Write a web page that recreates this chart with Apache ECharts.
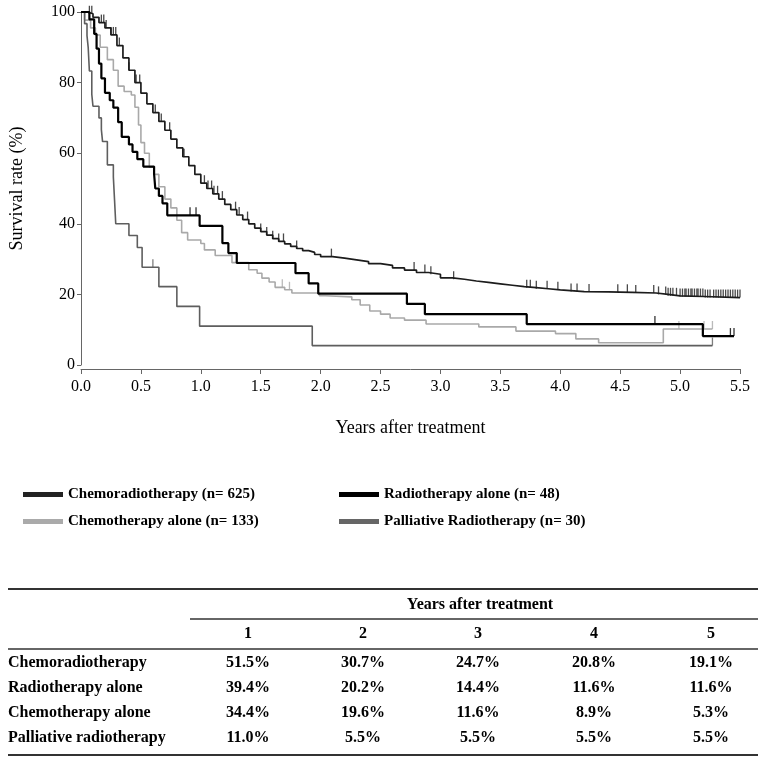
<!DOCTYPE html>
<html><head><meta charset="utf-8">
<script src="https://cdn.jsdelivr.net/npm/echarts@6/dist/echarts.min.js"></script>
<style>html,body{margin:0;padding:0;background:#fff}#c{width:767px;height:765px}</style>
</head><body><div id="c"></div>
<script>
// ---------- data ----------
const seriesNames = ['Chemoradiotherapy (n= 625)', 'Radiotherapy alone (n= 48)', 'Chemotherapy alone (n= 133)', 'Palliative Radiotherapy (n= 30)'];

const crtTime = [0,0.05,0.1,0.15,0.2,0.25,0.3,0.35,0.4,0.45,0.5,0.55,0.6,0.65,0.7,0.75,0.8,0.85,0.9,0.95,1.0,1.05,1.1,1.15,1.2,1.25,1.3,1.35,1.4,1.45,1.5,1.55,1.6,1.65,1.7,1.75,1.8,1.85,1.9,1.95,2.0,2.1,2.2,2.3,2.4,2.5,2.6,2.7,2.8,2.9,3.0,3.1,3.2,3.3,3.4,3.5,3.6,3.7,3.8,3.9,4.0,4.2,4.4,4.6,4.8,4.9,5.0,5.2,5.5];
const crtSurv = [100,99.5,98.5,97,95.5,93.5,90.5,87,83.5,80,77,74,71.5,69,66.5,64,61.5,59,56.5,54,51.5,50,48.5,47,45.5,44,42.5,41.2,40,38.8,37.8,36.8,35.8,35,34.3,33.6,33,32.4,31.9,31.3,30.7,30.3,29.8,29.3,28.7,28.2,27.5,26.9,26.2,25.7,24.7,24.3,23.8,23.4,23.0,22.6,22.2,21.9,21.6,21.3,20.8,20.7,20.6,20.4,20.0,19.6,19.4,19.1,19.1];
const crtCensor = [0.07,0.09,0.17,0.19,0.21,0.25,0.27,0.29,0.32,0.4,0.46,0.49,0.62,0.67,0.74,0.85,0.86,1.03,1.06,1.09,1.11,1.14,1.18,1.29,1.32,1.39,1.5,1.55,1.6,1.65,1.69,1.8,2.09,2.78,2.87,2.92,3.11,3.72,3.75,3.8,3.89,3.98,4.09,4.14,4.24,4.48,4.56,4.63,4.78,4.82,4.88,4.9,4.92,4.94,4.97,5.0,5.02,5.04,5.05,5.07,5.09,5.1,5.12,5.14,5.15,5.17,5.19,5.21,5.23,5.25,5.28,5.3,5.32,5.34,5.36,5.38,5.4,5.42,5.44,5.46,5.48,5.5];

const rtTime = [0,0.07,0.11,0.13,0.15,0.17,0.2,0.24,0.27,0.31,0.34,0.4,0.43,0.47,0.52,0.61,0.62,0.65,0.68,0.72,0.99,1.18,1.23,1.3,1.79,1.9,1.98,2.72,2.87,3.72,5.19,5.45];
const rtSurv = [100,97.9,93.8,89.6,85.4,81.2,77.1,75,72.9,68.8,64.6,62.5,60.4,58.3,56.2,54.1,50,47.9,45.8,42.4,39.4,34.5,31.7,28.9,26.0,23.1,20.2,17.3,14.4,11.6,8.2,8.2];
const rtCensor = [0.91,0.96,4.79,5.42,5.45];

const ctTime = [0,0.03,0.08,0.12,0.16,0.22,0.27,0.31,0.36,0.42,0.45,0.48,0.5,0.53,0.57,0.61,0.65,0.7,0.75,0.8,0.84,0.89,1.0,1.03,1.12,1.26,1.4,1.47,1.51,1.57,1.62,1.7,1.76,1.99,2.04,2.26,2.33,2.41,2.5,2.58,2.7,2.88,3.32,3.63,3.96,4.13,4.32,4.86,5.27];
const ctSurv = [100,97.7,95.5,93.5,90,86.5,83.5,79,77.5,76.5,73,68,63,60,56,54,50.5,47,44.5,41,37.5,35.4,34.4,32.6,31,29,27,26,24.6,23.5,22,21.3,20.4,19.6,19.3,18.5,17,15.3,14.4,13.3,12.7,11.6,10.8,9.6,8.9,7.4,6.3,10.2,10.2];
const ctCensor = [1.68,1.74,4.99,5.2,5.27];

const prTime = [0,0.03,0.05,0.06,0.07,0.09,0.1,0.15,0.17,0.18,0.22,0.27,0.28,0.29,0.4,0.47,0.51,0.65,0.8,0.99,1.93,5.27];
const prSurv = [100,96.7,93.3,90,83.3,76.7,73.3,70,66.7,63.3,56.7,53.3,46.7,40,36.7,33.3,27.7,22.2,16.6,11.0,5.5,5.5];
const prCensor = [0.6,5.27];

const xTicks = ['0.0','0.5','1.0','1.5','2.0','2.5','3.0','3.5','4.0','4.5','5.0','5.5'];

const tableRows = ['Chemoradiotherapy','Radiotherapy alone','Chemotherapy alone','Palliative radiotherapy'];
const tableYears = ['1','2','3','4','5'];
const tableVals = [
  ['51.5%','30.7%','24.7%','20.8%','19.1%'],
  ['39.4%','20.2%','14.4%','11.6%','11.6%'],
  ['34.4%','19.6%','11.6%','8.9%','5.3%'],
  ['11.0%','5.5%','5.5%','5.5%','5.5%']
];

// ---------- build ----------
const FONT = '"Liberation Serif", "Times New Roman", serif';
const colors = ['#1c1c1c', '#000000', '#a9a9a9', '#5e5e5e'];
const legendColors = ['#222222', '#000000', '#aaaaaa', '#666666'];
const widths = [1.7, 2.2, 1.6, 1.6];
const times = [crtTime, rtTime, ctTime, prTime];
const survs = [crtSurv, rtSurv, ctSurv, prSurv];
const censors = [crtCensor, rtCensor, ctCensor, prCensor];

function survAt(t, ts, ss) {
  let v = ss[0];
  for (let i = 0; i < ts.length; i++) { if (ts[i] <= t) v = ss[i]; else break; }
  return v;
}

const series = [];
for (let k = 0; k < 4; k++) {
  series.push({
    name: seriesNames[k], type: 'line', step: 'end', showSymbol: false, silent: true,
    color: legendColors[k],
    lineStyle: { color: colors[k], width: widths[k] },
    data: times[k].map((t, i) => [t, survs[k][i]]), z: 3 + (k === 1 ? 1 : 0)
  });
}
for (let k = 0; k < 4; k++) {
  series.push({
    name: 'censor' + k, type: 'scatter', silent: true,
    symbol: 'rect', symbolSize: [1.3, 8], symbolOffset: [0, -4],
    itemStyle: { color: colors[k] },
    data: censors[k].map(t => [t, survAt(t, times[k], survs[k])]), z: 3
  });
}

// table graphics
const g = [];
const bold = 'bold 16px ' + FONT;
const colX = [248, 363, 478, 594, 711];
g.push({ type: 'line', shape: { x1: 8, y1: 589, x2: 758, y2: 589 }, style: { stroke: '#333', lineWidth: 2 } });
g.push({ type: 'text', x: 480, y: 605, style: { text: 'Years after treatment', font: bold, fill: '#000', align: 'center', verticalAlign: 'middle' } });
g.push({ type: 'line', shape: { x1: 190, y1: 619, x2: 758, y2: 619 }, style: { stroke: '#333', lineWidth: 1.5 } });
tableYears.forEach((y, j) => g.push({ type: 'text', x: colX[j], y: 634, style: { text: y, font: bold, fill: '#000', align: 'center', verticalAlign: 'middle' } }));
g.push({ type: 'line', shape: { x1: 8, y1: 649, x2: 758, y2: 649 }, style: { stroke: '#333', lineWidth: 1.5 } });
tableRows.forEach((r, i) => {
  const yy = 663 + i * 25;
  g.push({ type: 'text', x: 8, y: yy, style: { text: r, font: bold, fill: '#000', align: 'left', verticalAlign: 'middle' } });
  tableVals[i].forEach((v, j) => g.push({ type: 'text', x: colX[j], y: yy, style: { text: v, font: bold, fill: '#000', align: 'center', verticalAlign: 'middle' } }));
});
g.push({ type: 'line', shape: { x1: 8, y1: 755, x2: 758, y2: 755 }, style: { stroke: '#333', lineWidth: 2 } });

const legendCommon = {
  orient: 'vertical', top: 482, itemWidth: 40, itemHeight: 5, itemGap: 12, icon: 'rect',
  selectedMode: false,
  textStyle: { fontFamily: FONT, fontWeight: 'bold', fontSize: 15, color: '#000', padding: [0, 0, 0, 0] }
};

const option = {
  backgroundColor: '#fff',
  animation: false,
  grid: { left: 78, right: 27, top: 12, bottom: 400, containLabel: false },
  xAxis: {
    type: 'value', min: 0, max: 5.5, interval: 0.5, offset: 4,
    axisLine: { onZero: false, lineStyle: { color: '#666', width: 1 } },
    axisTick: { show: true, length: 5, lineStyle: { color: '#666' } },
    splitLine: { show: false },
    axisLabel: { fontFamily: FONT, fontSize: 16, color: '#000', margin: 10,
      formatter: (v) => xTicks[Math.round(v / 0.5)] },
    name: 'Years after treatment', nameLocation: 'middle', nameGap: 50,
    nameTextStyle: { fontFamily: FONT, fontSize: 18, color: '#000' }
  },
  yAxis: {
    type: 'value', min: 0, max: 100, interval: 20, offset: 3,
    axisLine: { show: true, lineStyle: { color: '#666', width: 1 } },
    axisTick: { show: true, length: 4, lineStyle: { color: '#666' } },
    splitLine: { show: false },
    axisLabel: { fontFamily: FONT, fontSize: 16, color: '#000', margin: 3 },
    name: 'Survival rate (%)', nameLocation: 'middle', nameGap: 52,
    nameTextStyle: { fontFamily: FONT, fontSize: 18, color: '#000' }
  },
  legend: [
    Object.assign({}, legendCommon, { left: 18, data: [seriesNames[0], seriesNames[2]] }),
    Object.assign({}, legendCommon, { left: 334, data: [seriesNames[1], seriesNames[3]] })
  ],
  graphic: g,
  series: series
};
echarts.init(document.getElementById('c'), null, { renderer: 'canvas' }).setOption(option);
</script></body></html>
